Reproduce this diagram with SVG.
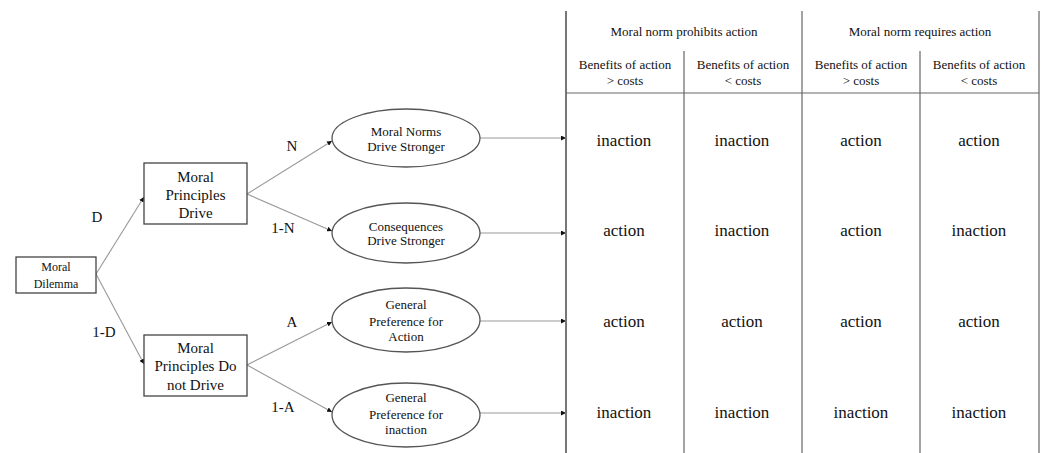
<svg xmlns="http://www.w3.org/2000/svg" width="1045" height="453" viewBox="0 0 1045 453" font-family="'Liberation Serif', Tinos, 'DejaVu Serif', serif">
<defs>
<style>
text{font-family:'Liberation Serif', Tinos, 'DejaVu Serif', serif;fill:#111;text-anchor:middle}
.box{fill:#fff;stroke:#444;stroke-width:1.3}
.ell{fill:#fff;stroke:#555;stroke-width:1.3}
.con{stroke:#999;stroke-width:1.1;fill:none;marker-end:url(#ah)}
.grid{stroke:#666;stroke-width:1.2;fill:none}
.t15{font-size:15px}
.t13{font-size:13px}
.t12{font-size:12px}
.cell{font-size:17px}
</style>
<marker id="ah" viewBox="0 0 10 10" refX="10" refY="5" markerWidth="5" markerHeight="5" markerUnits="userSpaceOnUse" orient="auto">
<path d="M0,0 L10,5 L0,10 z" fill="#111"/>
</marker>
</defs>
<rect width="1045" height="453" fill="#fff"/>

<g id="connectors">
<line class="con" x1="96" y1="274" x2="144" y2="197"/>
<line class="con" x1="96" y1="274" x2="144" y2="364"/>
<line class="con" x1="247" y1="194" x2="332" y2="141"/>
<line class="con" x1="247" y1="194" x2="332" y2="231"/>
<line class="con" x1="247" y1="365" x2="332" y2="322"/>
<line class="con" x1="247" y1="365" x2="332" y2="412"/>
<line class="con" x1="480" y1="138" x2="566" y2="138"/>
<line class="con" x1="480" y1="233" x2="566" y2="233"/>
<line class="con" x1="480" y1="321" x2="566" y2="321"/>
<line class="con" x1="480" y1="413" x2="566" y2="413"/>
</g>

<g id="edge-labels" class="t15">
<text x="97" y="222">D</text>
<text x="104" y="337">1-D</text>
<text x="292" y="151">N</text>
<text x="283" y="233">1-N</text>
<text x="292" y="327">A</text>
<text x="283" y="412">1-A</text>
</g>

<g id="moral-dilemma">
<rect class="box" x="16" y="257" width="80" height="36"/>
<text class="t12" x="56" y="271">Moral</text>
<text class="t12" x="56" y="288">Dilemma</text>
</g>

<g id="principles-drive">
<rect class="box" x="144" y="163" width="103" height="61"/>
<text class="t15" x="195.5" y="182">Moral</text>
<text class="t15" x="195.5" y="200">Principles</text>
<text class="t15" x="195.5" y="218">Drive</text>
</g>

<g id="principles-not-drive">
<rect class="box" x="144" y="335" width="103" height="61"/>
<text class="t15" x="195.5" y="353">Moral</text>
<text class="t15" x="195.5" y="371">Principles Do</text>
<text class="t15" x="195.5" y="390">not Drive</text>
</g>

<g id="norms-stronger">
<ellipse class="ell" cx="406" cy="138" rx="74" ry="29"/>
<text class="t13" x="406" y="136">Moral Norms</text>
<text class="t13" x="406" y="151">Drive Stronger</text>
</g>

<g id="consequences-stronger">
<ellipse class="ell" cx="406" cy="233" rx="74" ry="30"/>
<text class="t13" x="406" y="231">Consequences</text>
<text class="t13" x="406" y="245">Drive Stronger</text>
</g>

<g id="pref-action">
<ellipse class="ell" cx="406" cy="320" rx="74" ry="32"/>
<text class="t13" x="406" y="309">General</text>
<text class="t13" x="406" y="326">Preference  for</text>
<text class="t13" x="406" y="341">Action</text>
</g>

<g id="pref-inaction">
<ellipse class="ell" cx="406" cy="415" rx="74" ry="32"/>
<text class="t13" x="406" y="402">General</text>
<text class="t13" x="406" y="419">Preference  for</text>
<text class="t13" x="406" y="434">inaction</text>
</g>

<g id="table">
<line class="grid" x1="566" y1="11" x2="566" y2="453" style="stroke:#777;stroke-width:2"/>
<line class="grid" x1="802" y1="11" x2="802" y2="453"/>
<line class="grid" x1="1039" y1="11" x2="1039" y2="453"/>
<line class="grid" x1="684" y1="51" x2="684" y2="453"/>
<line class="grid" x1="920" y1="51" x2="920" y2="453"/>
<line class="grid" x1="566" y1="93" x2="1039" y2="93"/>
<text class="t13" x="684" y="36">Moral norm prohibits action</text>
<text class="t13" x="920" y="36">Moral norm requires action</text>
<text class="t13" x="625" y="69">Benefits  of action</text>
<text class="t13" x="625" y="85">&gt; costs</text>
<text class="t13" x="743" y="69">Benefits  of action</text>
<text class="t13" x="743" y="85">&lt; costs</text>
<text class="t13" x="861" y="69">Benefits  of action</text>
<text class="t13" x="861" y="85">&gt; costs</text>
<text class="t13" x="979" y="69">Benefits  of action</text>
<text class="t13" x="979" y="85">&lt; costs</text>
<g class="cell">
<text class="cell" x="624" y="146">inaction</text>
<text class="cell" x="742" y="146">inaction</text>
<text class="cell" x="861" y="146">action</text>
<text class="cell" x="979" y="146">action</text>
<text class="cell" x="624" y="236">action</text>
<text class="cell" x="742" y="236">inaction</text>
<text class="cell" x="861" y="236">action</text>
<text class="cell" x="979" y="236">inaction</text>
<text class="cell" x="624" y="327">action</text>
<text class="cell" x="742" y="327">action</text>
<text class="cell" x="861" y="327">action</text>
<text class="cell" x="979" y="327">action</text>
<text class="cell" x="624" y="418">inaction</text>
<text class="cell" x="742" y="418">inaction</text>
<text class="cell" x="861" y="418">inaction</text>
<text class="cell" x="979" y="418">inaction</text>
</g>
</g>
</svg>
